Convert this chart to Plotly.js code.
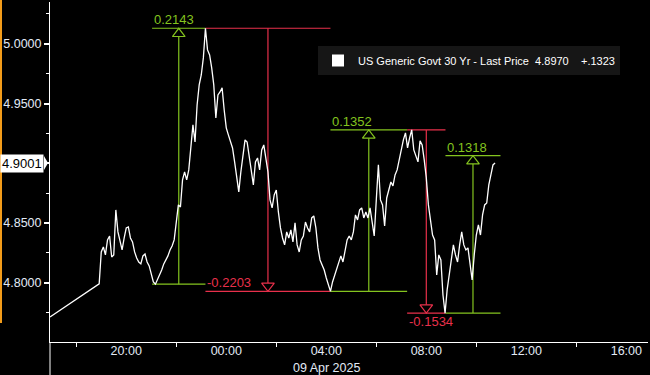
<!DOCTYPE html>
<html><head><meta charset="utf-8">
<script src="https://cdn.plot.ly/plotly-3.0.1.min.js"></script>
<style>html,body{margin:0;padding:0;background:#000;}#chart{width:650px;height:375px;}</style>
</head><body><div id="chart"></div>
<script>
// ---- data ----
const seriesName = 'US Generic Govt 30 Yr - Last Price';
const lastPrice = 4.8970;
const netChange = '+.1323';
const dateLabel = '09 Apr 2025';
const openTime = '2025-04-08 16:57';
const openValue = 4.7713;
const barsStart = '2025-04-08 18:55';
const barMinutes = 5;
const barValues = [
 4.7990,4.8257,4.8299,4.8232,4.8358,4.8391,4.8215,4.8232,4.8609,4.8425,
 4.8358,4.8274,4.8374,4.8458,4.8466,4.8374,4.8341,4.8257,4.8207,4.8173,
 4.8157,4.8224,4.8240,4.8173,4.8140,4.8064,4.8006,4.7987,4.8023,4.8073,
 4.8106,4.8157,4.8190,4.8224,4.8274,4.8307,4.8358,4.8483,4.8651,4.8634,
 4.8860,4.8927,4.8860,4.8944,4.9111,4.9321,4.9178,4.9488,4.9656,4.9739,
 4.9882,5.0130,4.9949,4.9907,4.9798,4.9656,4.9379,4.9572,4.9597,4.9631,
 4.9446,4.9296,4.9237,4.9178,4.9128,4.9011,4.8877,4.8760,4.8927,4.9044,
 4.9195,4.9178,4.9069,4.8944,4.8818,4.9011,4.9044,4.8944,4.9111,4.9153,
 4.9028,4.8927,4.8693,4.8626,4.8734,4.8776,4.8592,4.8458,4.8374,4.8316,
 4.8425,4.8374,4.8441,4.8341,4.8500,4.8316,4.8257,4.8358,4.8391,4.8508,
 4.8458,4.8425,4.8542,4.8559,4.8458,4.8291,4.8190,4.8148,4.8106,4.8039,
 4.7989,4.7927,4.8006,4.8056,4.8106,4.8173,4.8224,4.8173,4.8274,4.8358,
 4.8391,4.8358,4.8425,4.8567,4.8525,4.8609,4.8626,4.8542,4.8592,4.8542,
 4.8626,4.8508,4.8391,4.8693,4.8986,4.8693,4.8651,4.8475,4.8709,4.8776,
 4.8843,4.8810,4.8902,4.8944,4.9028,4.9128,4.9195,4.9254,4.9128,4.9212,
 4.9279,4.9111,4.9061,4.9011,4.9187,4.9153,4.9028,4.8877,4.8651,4.8542,
 4.8399,4.8358,4.8064,4.8232,4.8190,4.7897,4.7745,4.7939,4.8064,4.8190,
 4.8316,4.8232,4.8173,4.8316,4.8425,4.8316,4.8274,4.8291,4.8173,4.8023,
 4.8232,4.8399,4.8483,4.8399,4.8567,4.8651,4.8667,4.8818,4.8902,4.8986,4.9001
];
const pivotTimes = ['2025-04-08 21:02','2025-04-08 23:10','2025-04-09 04:10','2025-04-09 07:14','2025-04-09 08:46','2025-04-09 10:58'];
const pivotValues = [4.7987, 5.0130, 4.7927, 4.9279, 4.7745, 4.9063];
const moveLabels = ['0.2143','-0.2203','0.1352','-0.1534','0.1318'];
const labelPlacement = ['above','above','above','below','above'];
const xRange = ['2025-04-08 16:57','2025-04-09 16:52'];
const yRange = [4.7503, 5.0350];
const dateLabelAt = '2025-04-09 04:00';

// ---- helpers ----
function toMs(s){const [d,t]=s.split(' ');const [Y,M,D]=d.split('-').map(Number);const [h,m]=t.split(':').map(Number);return Date.UTC(Y,M-1,D,h,m);}
function fmt(ms){return new Date(ms).toISOString().slice(0,19).replace('T',' ');}

const W=650,H=375, mL=50, mR=2, mT=2, mB=33;
const plotW=W-mL-mR, plotH=H-mT-mB;
const k=(yRange[1]-yRange[0])/plotH; // value per px

const GREEN='#84c41f', RED='#e8304b', TICKC='#e2eaf6';
const FONT='Liberation Sans, Arial, sans-serif';

const xs=[openTime], ys=[openValue];
const t0=toMs(barsStart);
barValues.forEach((v,i)=>{xs.push(fmt(t0+i*barMinutes*60000)); ys.push(v);});

const shapes=[], annotations=[];
const triX=[], triY=[], triSym=[], triCol=[];
const r=5.5;
for(let i=0;i<moveLabels.length;i++){
  const a=pivotTimes[i], b=pivotTimes[i+1];
  const v0=pivotValues[i], v1=pivotValues[i+1];
  const up=v1>v0, col=up?GREEN:RED;
  const tm=fmt((toMs(a)+toMs(b))/2);
  const ln={color:col,width:1.2};
  shapes.push({type:'line',xref:'x',yref:'y',x0:a,x1:b,y0:v0,y1:v0,line:ln,layer:'below'});
  shapes.push({type:'line',xref:'x',yref:'y',x0:a,x1:b,y0:v1,y1:v1,line:ln,layer:'below'});
  const vEnd = up ? v1-1.5*r*k : v1+1.5*r*k;
  shapes.push({type:'line',xref:'x',yref:'y',x0:tm,x1:tm,y0:v0,y1:vEnd,line:ln,layer:'below'});
  triX.push(tm); triY.push(up? v1-r*k : v1+r*k); triSym.push(up?'triangle-up-open':'triangle-down-open'); triCol.push(col);
  const above=labelPlacement[i]==='above';
  annotations.push({xref:'x',yref:'y',x:a,y:v1,xanchor:'left',yanchor:above?'bottom':'top',
    text:moveLabels[i],showarrow:false,font:{family:FONT,size:13,color:col},borderpad:0,xshift:1});
}

const lastV=barValues[barValues.length-1];
annotations.push({xref:'paper',yref:'y',x:0,y:lastV,xanchor:'right',yanchor:'middle',xshift:-6,
  text:lastV.toFixed(4),showarrow:false,bgcolor:'#ffffff',borderpad:1,font:{family:FONT,size:13,color:'#000'}});
shapes.push({type:'path',xref:'paper',yref:'y',
  path:`M ${-6/plotW},${lastV+7*k} L ${-2/plotW},${lastV} L ${-6/plotW},${lastV-7*k} Z`,
  fillcolor:'#ffffff',line:{width:0}});
annotations.push({xref:'x',yref:'paper',x:dateLabelAt,y:-(368-H+mB)/plotH,xanchor:'center',yanchor:'middle',
  text:dateLabel,showarrow:false,font:{family:FONT,size:12.5,color:TICKC}});
// orange screen edge & separator
shapes.push({type:'line',xref:'paper',yref:'paper',x0:(1-mL)/plotW,x1:(1-mL)/plotW,y0:1+mT/plotH,y1:1-(323-mT)/plotH,line:{color:'#f39c1a',width:2}});
shapes.push({type:'line',xref:'paper',yref:'paper',x0:0,x1:0,y0:0,y1:-mB/plotH,line:{color:'#ffffff',width:1}});

const traces=[
  {x:xs,y:ys,type:'scatter',mode:'lines',line:{color:'#ffffff',width:1.3},showlegend:false,hoverinfo:'skip'},
  {x:triX,y:triY,type:'scatter',mode:'markers',marker:{symbol:triSym,size:11,color:triCol,line:{color:triCol,width:1.2}},showlegend:false,hoverinfo:'skip'},
  {x:[null],y:[null],type:'scatter',mode:'markers',marker:{symbol:'square',size:12,color:'#ffffff'},
   name:`${seriesName}\u00a0\u00a0${lastPrice.toFixed(4)}\u00a0\u00a0\u00a0\u00a0${netChange}`,showlegend:true}
];

const layout={
  width:W,height:H,margin:{l:mL,r:mR,t:mT,b:mB},
  paper_bgcolor:'#000',plot_bgcolor:'#000',
  font:{family:FONT,color:TICKC},
  showlegend:true,
  legend:{x:(318-mL)/plotW,y:1-(46-mT)/plotH,xanchor:'left',yanchor:'top',bgcolor:'#161616',borderwidth:0,
    font:{family:FONT,size:11,color:'#ffffff'},itemwidth:30},
  xaxis:{type:'date',range:xRange,showgrid:false,zeroline:false,showline:true,linecolor:'#ffffff',linewidth:1,
    tickformat:'%H:%M',dtick:4*3600000,ticks:'',tickfont:{family:FONT,size:12.5,color:TICKC},ticklabelstandoff:-3,
    minor:{dtick:2*3600000,ticks:'outside',ticklen:4,tickcolor:'#ffffff',tickwidth:1,showgrid:false},fixedrange:true},
  yaxis:{range:yRange,tick0:4.8,dtick:0.05,tickformat:'.4f',ticks:'outside',ticklen:5,tickwidth:2,tickcolor:'#ffffff',
    showline:true,linecolor:'#ffffff',linewidth:1,showgrid:false,zeroline:false,ticklabelstandoff:0,
    tickfont:{family:FONT,size:12.5,color:TICKC},
    minor:{dtick:0.025,ticks:'outside',ticklen:3,tickcolor:'#ffffff',tickwidth:1,showgrid:false},fixedrange:true},
  shapes:shapes,annotations:annotations
};
Plotly.newPlot('chart',traces,layout,{displayModeBar:false,staticPlot:true});
</script></body></html>
